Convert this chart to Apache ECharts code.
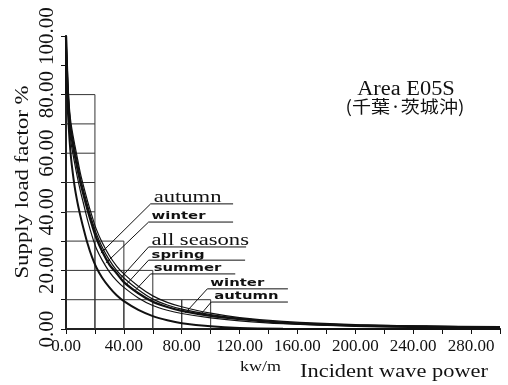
<!DOCTYPE html>
<html><head><meta charset="utf-8">
<script src="https://cdn.jsdelivr.net/npm/echarts@6/dist/echarts.min.js"></script>
<style>html,body{margin:0;padding:0;background:#fff}#c{width:508px;height:385px}</style>
</head><body><div id="c"></div>
<script>
// ---- data ----
const xValues   = [0, 1, 2, 3, 4, 6, 8, 10, 12, 15, 18, 21, 25, 30, 35, 40, 50, 60, 70, 80, 100, 120, 150, 200, 250, 300];
const autumnY   = [100, 88, 78, 72, 68.5, 63, 58, 53, 49, 43.5, 38.5, 34, 29.5, 25, 21.5, 18.8, 14.6, 11.3, 9.1, 7.6, 5.4, 3.9, 2.6, 1.5, 1.05, 0.8];
const winterY   = [100, 86, 76, 70.5, 67, 61.5, 56.5, 51.5, 47.5, 42, 37, 32.5, 28, 23.5, 20, 17.4, 13.4, 10.2, 8.2, 6.8, 4.9, 3.6, 2.3, 1.35, 0.9, 0.6];
const allSeasY  = [100, 84, 74, 68.5, 65, 59.5, 54.5, 50, 46, 40.5, 35.5, 31, 26.5, 22, 19, 16, 12.2, 9.3, 7.5, 6.2, 4.5, 3.4, 2.1, 1.2, 0.8, 0.5];
const springY   = [100, 82, 71, 65.5, 62, 56.5, 51.5, 47, 43, 37, 31.8, 27.5, 23.5, 19.5, 16.5, 14.2, 10.6, 8, 6.4, 5.3, 3.8, 2.8, 1.8, 0.9, 0.5, 0.3];
const summerY   = [100, 78, 68, 61, 56, 48.5, 43, 38.5, 34.5, 29, 24.5, 21, 17.5, 14.2, 11.5, 9.5, 6.5, 4.4, 3, 2, 0.9, 0.35, 0.1, 0, 0, 0];

// histogram bins
const binStart  = [0, 20, 40, 60, 80];
const binEnd    = [20, 40, 60, 80, 100];
const binHeight = [80, 30, 20, 10, 10];

// annotation labels with leader lines (data coordinates)
const annoText  = ['autumn', 'winter', 'all seasons', 'spring', 'summer', 'winter', 'autumn'];
const annoTip   = [[24.1, 25.9], [27.5, 22.5], [37.8, 17.4], [41.3, 15.0], [48.1, 13.3], [82.5, 5.5], [92.8, 4.8]];
const annoElbow = [[58.5, 42.7], [57.1, 36.5], [57.1, 28.0], [57.1, 23.5], [58.5, 18.8], [97.7, 13.7], [100.4, 9.2]];
const annoEndX  = [115.5, 115.5, 124.5, 123.8, 117, 153.4, 153.4];
const annoLarge = [1, 0, 1, 0, 0, 0, 0];

// ---- chart ----
const SERIF = "'Liberation Serif','DejaVu Serif',serif";
const INK = '#111';
const chart = echarts.init(document.getElementById('c'), null, {renderer: 'canvas'});

function lineSeries(name, ys, w) {
  return {
    name, type: 'line', data: xValues.map((x, i) => [x, ys[i]]),
    showSymbol: false, smooth: 0.3, z: 3,
    lineStyle: {color: INK, width: w}, itemStyle: {color: INK}
  };
}

const option = {
  animation: false,
  backgroundColor: '#fff',
  grid: {left: 66, right: 8, top: 36, bottom: 56, containLabel: false},
  xAxis: [{
    type: 'value', min: 0, max: 300, interval: 20, position: 'bottom',
    axisLine: {show: true, lineStyle: {color: INK, width: 2}},
    axisTick: {show: true, inside: false, length: 5, lineStyle: {color: INK, width: 1}},
    splitLine: {show: false},
    axisLabel: {color: INK, fontFamily: SERIF, fontSize: 17, margin: 9,
      formatter: v => (v % 40 === 0 ? v.toFixed(2) : '')}
  }, {
    type: 'value', min: 0, max: 300, interval: 20, position: 'top',
    axisLine: {show: true, lineStyle: {color: INK, width: 1.5}},
    axisTick: {show: true, inside: true, length: 4, lineStyle: {color: INK, width: 1}},
    splitLine: {show: false}, axisLabel: {show: false}
  }],
  yAxis: [{
    type: 'value', min: 0, max: 100, interval: 10, position: 'left',
    axisLine: {show: true, lineStyle: {color: INK, width: 2}},
    axisTick: {show: true, inside: false, length: 5, lineStyle: {color: INK, width: 1}},
    splitLine: {show: false},
    axisLabel: {color: INK, fontFamily: SERIF, fontSize: 21, rotate: 90, margin: 8,
      formatter: v => (v % 20 === 0 ? v.toFixed(2) : '')}
  }, {
    type: 'value', min: 0, max: 100, interval: 10, position: 'right',
    axisLine: {show: true, lineStyle: {color: INK, width: 1.5}},
    axisTick: {show: true, inside: true, length: 4, lineStyle: {color: INK, width: 1}},
    splitLine: {show: false}, axisLabel: {show: false}
  }],
  series: [
    {
      type: 'custom', name: 'histogram', z: 1, silent: true,
      data: binStart.map((s, i) => [s, binEnd[i], binHeight[i]]),
      encode: {x: [0, 1], y: 2},
      renderItem(params, api) {
        const x0 = api.value(0), x1 = api.value(1), h = api.value(2);
        const p0 = api.coord([x0, 0]), p1 = api.coord([x1, h]);
        const ch = [{type: 'rect', shape: {x: p0[0], y: p1[1], width: p1[0] - p0[0], height: p0[1] - p1[1]},
          style: {fill: null, stroke: '#333', lineWidth: 1}}];
        for (let k = 10; k < h; k += 10) {
          const a = api.coord([x0, k]), b = api.coord([x1, k]);
          ch.push({type: 'line', shape: {x1: a[0], y1: a[1], x2: b[0], y2: b[1]}, style: {stroke: '#333', lineWidth: 1}});
        }
        return {type: 'group', children: ch};
      }
    },
    lineSeries('autumn', autumnY, 1.2),
    lineSeries('winter', winterY, 1.2),
    lineSeries('all seasons', allSeasY, 2.3),
    lineSeries('spring', springY, 1.2),
    lineSeries('summer', summerY, 2),
    {
      type: 'custom', name: 'labels', z: 5, silent: true,
      data: annoTip,
      encode: {x: 0, y: 1},
      renderItem(params, api) {
        const i = params.dataIndex;
        const tip = api.coord([api.value(0), api.value(1)]);
        const elb = api.coord(annoElbow[i]);
        const end = api.coord([annoEndX[i], annoElbow[i][1]]);
        const big = annoLarge[i] === 1;
        return {type: 'group', children: [
          {type: 'polyline', shape: {points: [tip, elb, end]}, style: {stroke: INK, lineWidth: 1, fill: null}},
          {type: 'text', x: elb[0] + 3, y: elb[1] + (big ? 2 : 0), scaleX: big ? 1.33 : 1.35,
            style: {text: annoText[i], fill: INK, align: 'left', verticalAlign: 'bottom',
              font: big ? ("17px " + SERIF) : "bold 11px 'DejaVu Sans'"}}
        ]};
      }
    }
  ],
  graphic: [
    {type: 'text', x: 406, y: 90, scaleX: 1.12, style: {text: 'Area E05S', font: '20px ' + SERIF, fill: INK, align: 'center', verticalAlign: 'middle'}},
    {type: 'text', x: 405, y: 107, scaleX: 1.12, style: {text: '(千葉·茨城沖)', font: "17px 'Noto Sans CJK JP'", fill: INK, align: 'center', verticalAlign: 'middle'}},
    {type: 'text', x: 23, y: 182, rotation: Math.PI / 2, scaleX: 1.2, style: {text: 'Supply load factor %', font: '19px ' + SERIF, fill: INK, align: 'center', verticalAlign: 'middle'}},
    {type: 'text', x: 300, y: 372, scaleX: 1.18, style: {text: 'Incident wave power', font: '19px ' + SERIF, fill: INK, align: 'left', verticalAlign: 'middle'}},
    {type: 'text', x: 240, y: 367, scaleX: 1.2, style: {text: 'kw/m', font: '15px ' + SERIF, fill: INK, align: 'left', verticalAlign: 'middle'}}
  ]
};
chart.setOption(option);
</script>
</body></html>
